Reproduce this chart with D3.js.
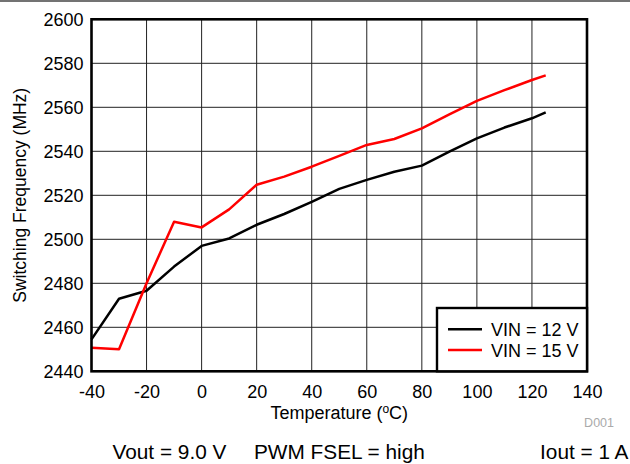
<!DOCTYPE html>
<html>
<head>
<meta charset="utf-8">
<script src="https://cdn.jsdelivr.net/npm/d3@7"></script>
<style>
  body { margin: 0; background: #fff; }
  svg { display: block; font-family: "Liberation Sans", Arial, sans-serif; }
</style>
</head>
<body>
<div id="chart"></div>
<script>
// Data
const temps = [-40, -30, -20, -10, 0, 10, 20, 30, 40, 50, 60, 70, 80, 90, 100, 110, 120, 125];
const vin12 = [2454.5, 2473, 2476.6, 2487.6, 2497, 2500.4, 2506.6, 2511.5, 2517, 2522.9, 2527, 2530.7, 2533.5, 2539.8, 2545.9, 2550.8, 2555, 2557.7];
const vin15 = [2450.7, 2450, 2480, 2508, 2505.4, 2513.6, 2524.8, 2528.5, 2533, 2537.9, 2542.9, 2545.6, 2550.4, 2556.8, 2562.9, 2567.8, 2572.4, 2574.5];
const seriesNames = ["VIN = 12 V", "VIN = 15 V"];
const seriesColors = ["#000000", "#ff0000"];
const xTicks = [-40, -20, 0, 20, 40, 60, 80, 100, 120, 140];
const yTicks = [2440, 2460, 2480, 2500, 2520, 2540, 2560, 2580, 2600];

const W = 630, H = 464;
const pLeft = 91.5, pRight = 587, pTop = 19.3, pBottom = 371.3;

const svg = d3.select("#chart")
  .append("svg")
  .attr("width", W)
  .attr("height", H);

// thin rule along the top of the page
svg.append("line")
  .attr("x1", 0).attr("x2", W)
  .attr("y1", 1).attr("y2", 1)
  .attr("stroke", "#444")
  .attr("stroke-width", 1.5);

const x = d3.scaleLinear().domain([-40, 140]).range([pLeft, pRight]);
const y = d3.scaleLinear().domain([2440, 2600]).range([pBottom, pTop]);

// grid
svg.append("g")
  .selectAll("line")
  .data(xTicks)
  .enter().append("line")
  .attr("x1", d => x(d)).attr("x2", d => x(d))
  .attr("y1", pTop).attr("y2", pBottom)
  .attr("stroke", "#222")
  .attr("stroke-width", 1);

svg.append("g")
  .selectAll("line")
  .data(yTicks)
  .enter().append("line")
  .attr("x1", pLeft).attr("x2", pRight)
  .attr("y1", d => y(d)).attr("y2", d => y(d))
  .attr("stroke", "#222")
  .attr("stroke-width", 1);

// axes (labels only) - plain hyphen for negatives like the original
const xAxis = svg.append("g")
  .attr("transform", "translate(0," + pBottom + ")")
  .call(d3.axisBottom(x).tickValues(xTicks).tickSize(0).tickPadding(14).tickFormat(d => String(d)));
xAxis.select(".domain").remove();
xAxis.selectAll("text")
  .attr("font-family", "Liberation Sans, Arial, sans-serif")
  .attr("font-size", 18)
  .attr("fill", "#000");

const yAxis = svg.append("g")
  .attr("transform", "translate(" + pLeft + ",0)")
  .call(d3.axisLeft(y).tickValues(yTicks).tickSize(0).tickPadding(8).tickFormat(d => String(d)));
yAxis.select(".domain").remove();
yAxis.selectAll("text")
  .attr("font-family", "Liberation Sans, Arial, sans-serif")
  .attr("font-size", 18)
  .attr("fill", "#000");

// series lines
const line = d3.line()
  .x(d => x(d[0]))
  .y(d => y(d[1]));

[vin12, vin15].forEach(function(vals, i) {
  svg.append("path")
    .datum(temps.map((t, j) => [t, vals[j]]))
    .attr("d", line)
    .attr("fill", "none")
    .attr("stroke", seriesColors[i])
    .attr("stroke-width", 2.5)
    .attr("stroke-linejoin", "round");
});

// plot frame
svg.append("rect")
  .attr("x", pLeft).attr("y", pTop)
  .attr("width", pRight - pLeft).attr("height", pBottom - pTop)
  .attr("fill", "none")
  .attr("stroke", "#000")
  .attr("stroke-width", 2.6);

// legend
const legend = svg.append("g");
legend.append("rect")
  .attr("x", 437).attr("y", 308)
  .attr("width", pRight - 437).attr("height", pBottom - 308)
  .attr("fill", "#fff")
  .attr("stroke", "#000")
  .attr("stroke-width", 2.4);

seriesNames.forEach(function(name, i) {
  const ly = 329.3 + i * 20.7;
  legend.append("line")
    .attr("x1", 448).attr("x2", 482)
    .attr("y1", ly).attr("y2", ly)
    .attr("stroke", seriesColors[i])
    .attr("stroke-width", 2.5);
  legend.append("text")
    .attr("x", 491)
    .attr("y", ly + 6.6)
    .attr("font-size", 18)
    .text(name);
});

// axis titles
svg.append("text")
  .attr("transform", "translate(26," + ((pTop + pBottom) / 2) + ") rotate(-90)")
  .attr("text-anchor", "middle")
  .attr("font-size", 17.5)
  .text("Switching Frequency (MHz)");

const xt = svg.append("text")
  .attr("x", (pLeft + pRight) / 2)
  .attr("y", 419)
  .attr("text-anchor", "middle")
  .attr("font-size", 18);
xt.append("tspan").text("Temperature (");
xt.append("tspan").attr("font-size", 12).attr("dy", -6).text("o");
xt.append("tspan").attr("dy", 6).text("C)");

svg.append("text")
  .attr("x", 614)
  .attr("y", 426.7)
  .attr("text-anchor", "end")
  .attr("font-size", 12.5)
  .attr("fill", "#aaa")
  .text("D001");

// conditions line
svg.append("text")
  .attr("x", 112.5).attr("y", 458.7)
  .attr("font-size", 20.8)
  .text("Vout = 9.0 V");
svg.append("text")
  .attr("x", 254).attr("y", 458.7)
  .attr("font-size", 20.8)
  .text("PWM FSEL = high");
svg.append("text")
  .attr("x", 628.5).attr("y", 458.7)
  .attr("text-anchor", "end")
  .attr("font-size", 20.8)
  .text("Iout = 1 A");
</script>
</body>
</html>
